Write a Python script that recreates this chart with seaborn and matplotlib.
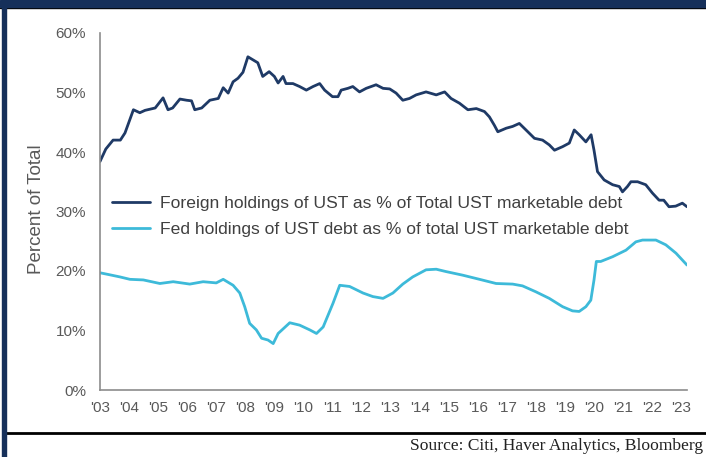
import matplotlib
matplotlib.use("Agg")
import matplotlib.pyplot as plt
import seaborn as sns
from matplotlib.patches import Rectangle
from matplotlib.lines import Line2D

# foreign holdings of UST, % of total marketable debt
foreign_year = [2003.00, 2003.20, 2003.45, 2003.70, 2003.86, 2004.15, 2004.37, 2004.55, 2004.90,
                2005.17, 2005.34, 2005.50, 2005.75, 2005.98, 2006.15, 2006.26, 2006.50, 2006.78,
                2007.07, 2007.24, 2007.41, 2007.58, 2007.75, 2007.92, 2008.09, 2008.26, 2008.43,
                2008.60, 2008.82, 2009.00, 2009.13, 2009.30, 2009.40, 2009.64, 2009.87, 2010.10,
                2010.33, 2010.56, 2010.73, 2011.00, 2011.19, 2011.30, 2011.53, 2011.70, 2011.93,
                2012.16, 2012.50, 2012.74, 2012.97, 2013.19, 2013.42, 2013.65, 2013.88, 2014.22,
                2014.57, 2014.86, 2015.08, 2015.37, 2015.66, 2015.95, 2016.23, 2016.40, 2016.57,
                2016.69, 2016.98, 2017.20, 2017.43, 2017.66, 2017.95, 2018.23, 2018.46, 2018.64,
                2018.92, 2019.15, 2019.32, 2019.49, 2019.72, 2019.90, 2020.00, 2020.12, 2020.35,
                2020.64, 2020.87, 2020.98, 2021.15, 2021.27, 2021.50, 2021.78, 2022.01, 2022.24,
                2022.40, 2022.58, 2022.81, 2023.04, 2023.20]
foreign_pct = [38.4, 40.5, 42.0, 42.0, 43.2, 47.1, 46.6, 47.0, 47.4,
               49.1, 47.1, 47.4, 48.9, 48.7, 48.6, 47.1, 47.4, 48.7,
               49.0, 50.8, 49.9, 51.8, 52.4, 53.4, 56.0, 55.5, 55.0,
               52.7, 53.5, 52.7, 51.6, 52.7, 51.5, 51.5, 51.0, 50.4,
               51.0, 51.5, 50.4, 49.3, 49.3, 50.4, 50.7, 51.0, 50.1,
               50.7, 51.3, 50.7, 50.6, 49.9, 48.7, 49.0, 49.6, 50.1,
               49.6, 50.1, 49.0, 48.2, 47.1, 47.3, 46.8, 45.9, 44.5,
               43.4, 44.0, 44.3, 44.8, 43.7, 42.3, 42.0, 41.2, 40.3,
               40.9, 41.5, 43.7, 42.9, 41.7, 42.9, 40.3, 36.7, 35.3,
               34.5, 34.2, 33.3, 34.2, 35.0, 35.0, 34.5, 33.1, 31.9,
               31.9, 30.8, 30.9, 31.4, 30.8]

# Fed holdings of UST debt, % of total marketable debt
fed_year = [2003.00, 2003.30, 2003.69, 2004.03, 2004.49, 2005.06, 2005.52, 2006.09, 2006.55,
            2007.00, 2007.24, 2007.58, 2007.81, 2007.98, 2008.15, 2008.38, 2008.56, 2008.78,
            2008.96, 2009.13, 2009.53, 2009.87, 2010.22, 2010.45, 2010.68, 2011.02, 2011.25,
            2011.59, 2012.05, 2012.39, 2012.74, 2013.08, 2013.42, 2013.76, 2014.22, 2014.57,
            2014.91, 2015.48, 2016.06, 2016.63, 2017.20, 2017.54, 2018.00, 2018.46, 2018.92,
            2019.26, 2019.49, 2019.72, 2019.89, 2020.00, 2020.08, 2020.23, 2020.64, 2021.10,
            2021.44, 2021.67, 2022.13, 2022.47, 2022.82, 2023.20]
fed_pct = [19.7, 19.4, 19.0, 18.6, 18.5, 17.9, 18.2, 17.8, 18.2,
           18.0, 18.6, 17.6, 16.3, 14.0, 11.2, 10.1, 8.7, 8.4,
           7.8, 9.5, 11.3, 10.9, 10.1, 9.5, 10.6, 14.6, 17.6,
           17.4, 16.3, 15.7, 15.4, 16.3, 17.8, 19.0, 20.2, 20.3,
           19.9, 19.3, 18.6, 17.9, 17.8, 17.5, 16.5, 15.4, 14.0,
           13.3, 13.2, 14.0, 15.1, 18.5, 21.6, 21.6, 22.4, 23.5,
           24.9, 25.2, 25.2, 24.4, 23.0, 21.0]

year_ticks = list(range(2003, 2024))
year_labels = ["'%02d" % (y % 100) for y in year_ticks]
pct_ticks = [0, 10, 20, 30, 40, 50, 60]

foreign_label = "Foreign holdings of UST as % of Total UST marketable debt"
fed_label = "Fed holdings of UST debt as % of total UST marketable debt"

sns.set_style("white")
plt.rcParams["font.family"] = ["Liberation Sans", "DejaVu Sans"]

W, H = 706, 457
fig = plt.figure(figsize=(W / 100, H / 100), dpi=100)
ax = fig.add_axes([100 / W, 1 - 390 / H, 587 / W, 357 / H])

sns.lineplot(x=foreign_year, y=foreign_pct, ax=ax, color="#1f3a66", lw=2.0, label=foreign_label)
sns.lineplot(x=fed_year, y=fed_pct, ax=ax, color="#3dbad9", lw=2.0, label=fed_label)

ax.set_xlim(2003, 2023.2)
ax.set_ylim(0, 60)
ax.set_xticks(year_ticks)
ax.set_xticklabels(year_labels)
ax.set_yticks(pct_ticks)
ax.set_yticklabels(["%d%%" % p for p in pct_ticks])
ax.tick_params(axis="both", direction="out", length=5, width=1.2, color="#8c8c8c",
               labelcolor="#595959", labelsize=11)
ax.tick_params(axis="y", pad=5)
ax.tick_params(axis="x", pad=3)
ax.set_xlabel("")
ax.set_ylabel("Percent of Total", color="#595959", fontsize=13.5)
ax.yaxis.set_label_coords(-0.094, 0.507)
for s in ["top", "right"]:
    ax.spines[s].set_visible(False)
for s in ["left", "bottom"]:
    ax.spines[s].set_color("#8c8c8c")
    ax.spines[s].set_linewidth(1.2)

leg = ax.legend(loc="upper left", bbox_to_anchor=(0.02, 0.545), frameon=False,
                fontsize=12.6, handlelength=2.2, handletextpad=0.57, labelspacing=0.66,
                borderpad=0, borderaxespad=0)
for t in leg.get_texts():
    t.set_color("#404040")

# frame pieces around the chart
fig.add_artist(Rectangle((0, 1 - 7 / H), 1, 7 / H, transform=fig.transFigure,
                         color="#16305a", zorder=5))
fig.add_artist(Line2D([0, 1], [1 - 7.5 / H, 1 - 7.5 / H], transform=fig.transFigure,
                      color="black", lw=1))
fig.add_artist(Rectangle((1.5 / W, 0), 4 / W, 1, transform=fig.transFigure,
                         color="#16305a", zorder=5))
fig.add_artist(Line2D([5 / W, 1], [1 - 432.5 / H, 1 - 432.5 / H], transform=fig.transFigure,
                      color="black", lw=2))

fig.text(703 / W, 1 - 446 / H, "Source: Citi, Haver Analytics, Bloomberg", ha="right",
         va="center", fontsize=12.6, family="Liberation Serif", color="#222222")

fig.savefig("out.png", dpi=100)
